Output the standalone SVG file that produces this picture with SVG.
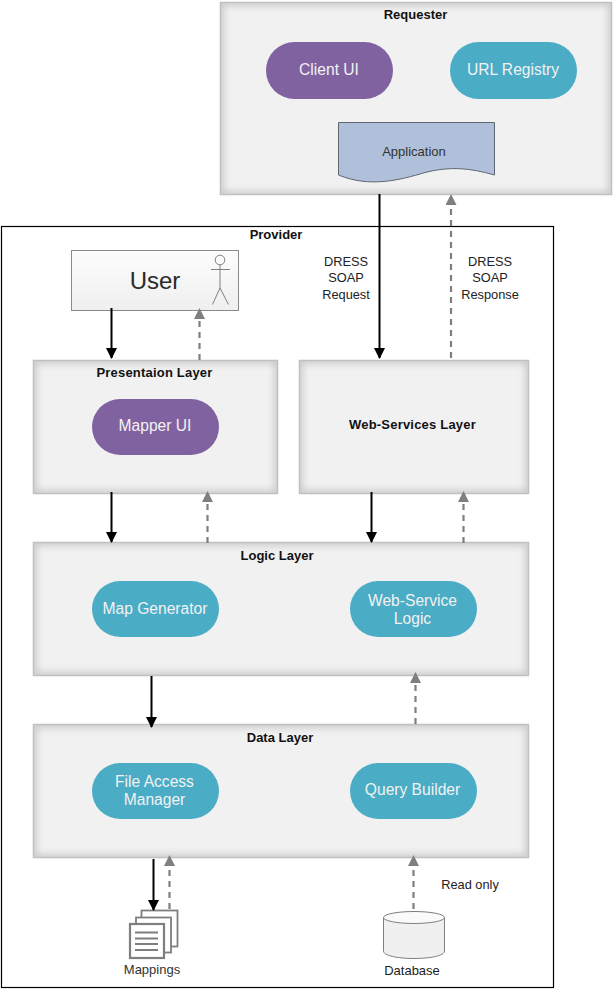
<svg xmlns="http://www.w3.org/2000/svg" width="613" height="989" viewBox="0 0 613 989">
<style>
text{font-family:"Liberation Sans",Arial,sans-serif;text-anchor:middle}
.title{font-size:13px;font-weight:bold;fill:#111}
.pill{font-size:15.6px;fill:#f2f2f2}
.lbl{font-size:12.800px;fill:#222}
.box{fill:#f1f1f1}
.edge{fill:none;stroke:#c4c4c4;stroke-width:6;filter:url(#soft)}
.frame{fill:none;stroke:#c0c0c0;stroke-width:1.5}
.purple{fill:#8162a0}
.teal{fill:#4bacc6}
.solid{fill:none;stroke:#000;stroke-width:2;marker-end:url(#ah)}
.dash{fill:none;stroke:#7f7f7f;stroke-width:2.200;stroke-dasharray:6 5;marker-end:url(#ahg)}
.ink{fill:none;stroke:#7f7f7f}
</style>
<defs>
<filter id="soft" x="-5%" y="-5%" width="110%" height="110%"><feGaussianBlur stdDeviation="3.500"/></filter>
<marker id="ah" markerUnits="userSpaceOnUse" markerWidth="11" markerHeight="11" refX="10" refY="5.500" orient="auto"><path d="M0 0L11 5.500L0 11Z" fill="#000"/></marker>
<marker id="ahg" markerUnits="userSpaceOnUse" markerWidth="11" markerHeight="11" refX="10" refY="5.500" orient="auto"><path d="M0 0L11 5.500L0 11Z" fill="#7f7f7f"/></marker>
<linearGradient id="userFill" x1="0" y1="0" x2="0" y2="1"><stop offset="0" stop-color="#fdfdfd"/><stop offset="1" stop-color="#efefef"/></linearGradient>
<clipPath id="c1"><rect x="220.500" y="2.500" width="391" height="192"/></clipPath>
<clipPath id="c2"><rect x="33.500" y="360.500" width="244" height="133"/></clipPath>
<clipPath id="c3"><rect x="299.500" y="360.500" width="229" height="133"/></clipPath>
<clipPath id="c4"><rect x="33.500" y="542.500" width="495" height="133"/></clipPath>
<clipPath id="c5"><rect x="33.500" y="724.500" width="495" height="133"/></clipPath>
</defs>
<rect width="613" height="989" fill="#fff"/>
<g id="provider">
<rect x="1.500" y="226.500" width="552" height="761" fill="#fff" stroke="#000" stroke-width="1.200"/>
<text class="title" x="276" y="239">Provider</text>
</g>
<g id="requester">
<rect class="box" x="220.500" y="2.500" width="391" height="192"/>
<g clip-path="url(#c1)"><rect class="edge" x="220.500" y="2.500" width="391" height="192"/></g>
<rect class="frame" x="220.500" y="2.500" width="391" height="192"/>
<text class="title" x="415.500" y="19">Requester</text>
</g>
<g id="client-ui"><rect class="purple" x="266" y="42" width="127" height="57" rx="28.500"/><text class="pill" x="329" y="75">Client UI</text></g>
<g id="url-registry"><rect class="teal" x="450" y="42" width="127" height="57" rx="28.500"/><text class="pill" x="513" y="75">URL Registry</text></g>
<g id="application"><path d="M338.500 122.500H494.500V175C470 168 450 166 425 172.500C400 180 370 188 338.500 175Z" fill="#b0c0da" stroke="#5f6670" stroke-width="1"/><text x="414" y="156" style="font-size:13px;fill:#333">Application</text></g>
<g id="user">
<rect x="71.500" y="250.500" width="167" height="60" fill="url(#userFill)" stroke="#8a8a8a" stroke-width="1"/>
<text x="155" y="289" style="font-size:24px;fill:#2a2a2a">User</text>
<g class="ink"><circle cx="220" cy="260" r="4.800"/><path d="M220 264.800V288M211 269.500H230M220 288L212.500 304.500M220 288L228.500 304.500"/></g>
</g>
<g id="presentation-layer">
<rect class="box" x="33.500" y="360.500" width="244" height="133"/>
<g clip-path="url(#c2)"><rect class="edge" x="33.500" y="360.500" width="244" height="133"/></g>
<rect class="frame" x="33.500" y="360.500" width="244" height="133"/>
<text class="title" x="154.500" y="377" style="letter-spacing:.2px">Presentaion Layer</text>
</g>
<g id="mapper-ui"><rect class="purple" x="92" y="399" width="127" height="56" rx="28"/><text class="pill" x="155" y="431">Mapper UI</text></g>
<g id="web-services-layer">
<rect class="box" x="299.500" y="360.500" width="229" height="133"/>
<g clip-path="url(#c3)"><rect class="edge" x="299.500" y="360.500" width="229" height="133"/></g>
<rect class="frame" x="299.500" y="360.500" width="229" height="133"/>
<text class="title" x="412.500" y="429" style="letter-spacing:.2px">Web-Services Layer</text>
</g>
<g id="logic-layer">
<rect class="box" x="33.500" y="542.500" width="495" height="133"/>
<g clip-path="url(#c4)"><rect class="edge" x="33.500" y="542.500" width="495" height="133"/></g>
<rect class="frame" x="33.500" y="542.500" width="495" height="133"/>
<text class="title" x="277" y="560">Logic Layer</text>
</g>
<g id="map-generator"><rect class="teal" x="92" y="581" width="127" height="56" rx="28"/><text class="pill" x="155" y="614">Map Generator</text></g>
<g id="web-service-logic"><rect class="teal" x="350" y="581" width="127" height="56" rx="28"/><text class="pill" x="412.500" y="606">Web-Service</text><text class="pill" x="412.500" y="624">Logic</text></g>
<g id="data-layer">
<rect class="box" x="33.500" y="724.500" width="495" height="133"/>
<g clip-path="url(#c5)"><rect class="edge" x="33.500" y="724.500" width="495" height="133"/></g>
<rect class="frame" x="33.500" y="724.500" width="495" height="133"/>
<text class="title" x="280" y="742">Data Layer</text>
</g>
<g id="file-access-manager"><rect class="teal" x="92" y="763" width="127" height="56" rx="28"/><text class="pill" x="154.500" y="787">File Access</text><text class="pill" x="154.500" y="805">Manager</text></g>
<g id="query-builder"><rect class="teal" x="350" y="763" width="127" height="56" rx="28"/><text class="pill" x="412.500" y="795">Query Builder</text></g>
<g id="mappings">
<g fill="#fff" stroke="#7f7f7f">
<rect x="141.500" y="910.500" width="36" height="36" stroke-width="1.800"/>
<rect x="136" y="917.500" width="35" height="35" stroke-width="1.800"/>
<rect x="130" y="924" width="34" height="34" stroke-width="2.200"/>
</g>
<path class="ink" stroke-width="1.800" d="M135 932.500H158M135 938.500H158M135 944H158M135 950H158"/>
<text x="152" y="974" style="font-size:13px;fill:#333">Mappings</text>
</g>
<g id="database">
<path d="M383.500 917.500V951C383.500 955.500 397 958.500 414 958.500C431 958.500 444.500 955.500 444.500 951V917.500Z" fill="#f0f0f0" stroke="#7f7f7f"/>
<ellipse cx="414" cy="917.500" rx="30.500" ry="6" fill="#fafafa" stroke="#7f7f7f"/>
<text x="412" y="975" style="font-size:13px;fill:#222">Database</text>
</g>
<g id="connectors">
<path class="solid" d="M379.500 194V358"/>
<path class="dash" d="M451 358V195"/>
<path class="solid" d="M111.500 308V358"/>
<path class="dash" d="M199.500 360V309"/>
<path class="solid" d="M111.500 492V542"/>
<path class="dash" d="M207.500 543V492"/>
<path class="solid" d="M371.500 492V542"/>
<path class="dash" d="M463.500 543V492"/>
<path class="solid" d="M151.500 676V727"/>
<path class="dash" d="M415.500 724V673"/>
<path class="solid" d="M153.500 859V910"/>
<path class="dash" d="M169.500 909V856"/>
<path class="dash" d="M413.500 909V856"/>
</g>
<g id="labels">
<text class="lbl" x="346" y="266">DRESS</text><text class="lbl" x="346" y="282">SOAP</text><text class="lbl" x="346" y="299">Request</text>
<text class="lbl" x="490" y="266">DRESS</text><text class="lbl" x="490" y="282">SOAP</text><text class="lbl" x="490" y="299">Response</text>
<text class="lbl" x="470" y="889">Read only</text>
</g>
</svg>
